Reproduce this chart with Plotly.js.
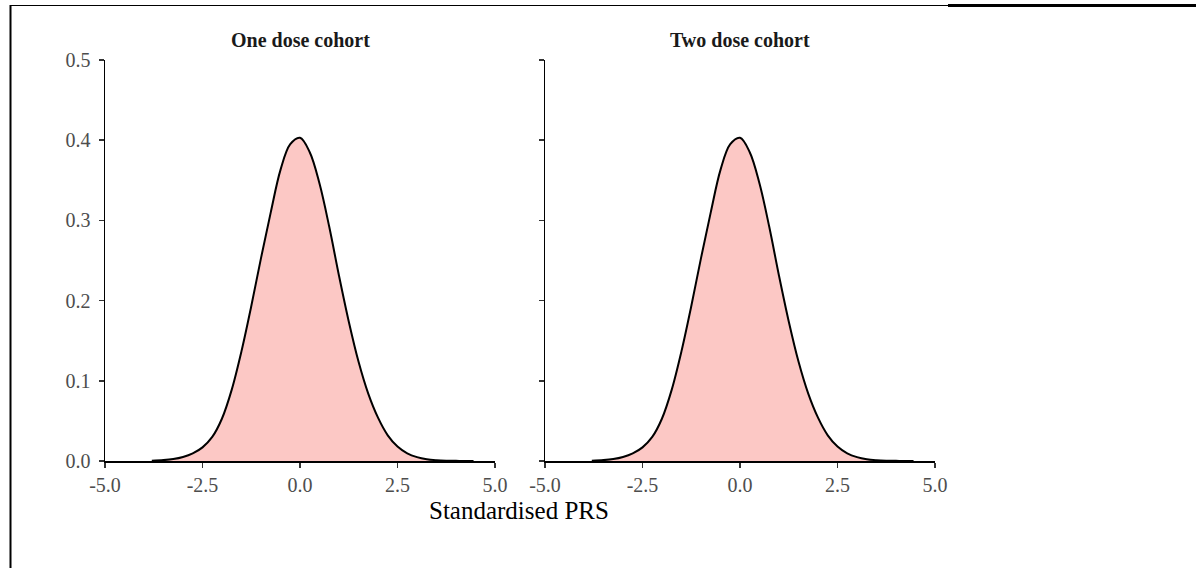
<!DOCTYPE html>
<html>
<head>
<meta charset="utf-8">
<script src="https://cdn.plot.ly/plotly-3.0.1.min.js"></script>
<style>
html,body{margin:0;padding:0;background:#fff;}
#chart{width:1196px;height:568px;}
</style>
</head>
<body>
<div id="chart"></div>
<script>
// Standardised PRS grid (x) and density values
const prsX = [-3.8, -3.5, -3.25, -3.0, -2.75, -2.5, -2.25, -2.0, -1.75, -1.5, -1.25, -1.0, -0.75, -0.5, -0.25, 0.0, 0.25, 0.5, 0.75, 1.0, 1.25, 1.5, 1.75, 2.0, 2.25, 2.5, 2.75, 3.0, 3.25, 3.5, 3.75, 4.0, 4.25, 4.45];
const oneDoseDensity = [0.0004, 0.0011, 0.0024, 0.0050, 0.0095, 0.0170, 0.030, 0.053, 0.089, 0.137, 0.193, 0.253, 0.310, 0.363, 0.395, 0.403, 0.385, 0.346, 0.292, 0.231, 0.174, 0.124, 0.084, 0.054, 0.032, 0.018, 0.0095, 0.0048, 0.0022, 0.0010, 0.0004, 0.0002, 0.0001, 0.0001];
const twoDoseDensity = [0.0004, 0.0011, 0.0024, 0.0050, 0.0095, 0.0170, 0.030, 0.053, 0.089, 0.137, 0.193, 0.253, 0.310, 0.363, 0.395, 0.403, 0.385, 0.346, 0.292, 0.231, 0.174, 0.124, 0.084, 0.054, 0.032, 0.018, 0.0095, 0.0048, 0.0022, 0.0010, 0.0004, 0.0002, 0.0001, 0.0001];
const panelTitles = ["One dose cohort", "Two dose cohort"];
const xTicks = [-5.0, -2.5, 0.0, 2.5, 5.0];
const xTickText = ["-5.0", "-2.5", "0.0", "2.5", "5.0"];
const yTicks = [0.0, 0.1, 0.2, 0.3, 0.4, 0.5];
const yTickText = ["0.0", "0.1", "0.2", "0.3", "0.4", "0.5"];
const xTitle = "Standardised PRS";

const W = 1196, H = 568;
const px = v => v / W;
const py = v => 1 - v / H;

const fillCol = "rgba(252,200,197,1)";
const serif = "Liberation Serif";

const traces = [
  {x: prsX, y: oneDoseDensity, xaxis: "x", yaxis: "y", type: "scatter", mode: "lines",
   line: {color: "#000", width: 2, shape: "spline", smoothing: 1}, fill: "tozeroy", fillcolor: fillCol, hoverinfo: "skip"},
  {x: prsX, y: twoDoseDensity, xaxis: "x2", yaxis: "y2", type: "scatter", mode: "lines",
   line: {color: "#000", width: 2, shape: "spline", smoothing: 1}, fill: "tozeroy", fillcolor: fillCol, hoverinfo: "skip"}
];

const axX = dom => ({
  domain: dom, range: [-5, 5], tickvals: xTicks, ticktext: xTickText, ticks: "outside", ticklen: 5, tickwidth: 1.5,
  tickcolor: "#333", showline: true, linecolor: "#000", linewidth: 1.5, showgrid: false, zeroline: false,
  tickfont: {family: serif, size: 20, color: "#4D4D4D"}, fixedrange: true
});
const axY = (showLabels, anchor) => ({
  domain: [py(461), py(60)], range: [0, 0.5], tickvals: yTicks, ticktext: yTickText, showticklabels: showLabels,
  ticks: "outside", ticklen: 5, tickwidth: 1.5, tickcolor: "#333", showline: true, linecolor: "#000", linewidth: 1.5,
  showgrid: false, zeroline: false, anchor: anchor, tickfont: {family: serif, size: 20, color: "#4D4D4D"}, fixedrange: true,
  ticklabelstandoff: 4
});

const layout = {
  width: W, height: H, margin: {l: 0, r: 0, t: 0, b: 0}, paper_bgcolor: "#fff", plot_bgcolor: "#fff",
  showlegend: false,
  xaxis: Object.assign(axX([px(105), px(495)]), {anchor: "y"}),
  yaxis: axY(true, "x"),
  xaxis2: Object.assign(axX([px(545), px(935)]), {anchor: "y2"}),
  yaxis2: axY(false, "x2"),
  annotations: [
    {text: "<b>" + panelTitles[0] + "</b>", x: px(300), y: py(40), xref: "paper", yref: "paper", showarrow: false,
     xanchor: "center", yanchor: "middle", font: {family: serif, size: 20, color: "#1a1a1a"}},
    {text: "<b>" + panelTitles[1] + "</b>", x: px(740), y: py(40), xref: "paper", yref: "paper", showarrow: false,
     xanchor: "center", yanchor: "middle", font: {family: serif, size: 20, color: "#1a1a1a"}},
    {text: xTitle, x: px(519), y: py(510), xref: "paper", yref: "paper", showarrow: false,
     xanchor: "center", yanchor: "middle", font: {family: serif, size: 25, color: "#000"}}
  ],
  shapes: [
    {type: "line", xref: "paper", yref: "paper", x0: px(10), x1: px(948), y0: py(5.5), y1: py(5.5), line: {color: "#000", width: 1}},
    {type: "line", xref: "paper", yref: "paper", x0: px(948), x1: px(1196), y0: py(5.5), y1: py(5.5), line: {color: "#000", width: 3}},
    {type: "line", xref: "paper", yref: "paper", x0: px(10.5), x1: px(10.5), y0: py(5), y1: py(568), line: {color: "#000", width: 2}}
  ]
};

Plotly.newPlot("chart", traces, layout, {displayModeBar: false, staticPlot: true});
</script>
</body>
</html>
